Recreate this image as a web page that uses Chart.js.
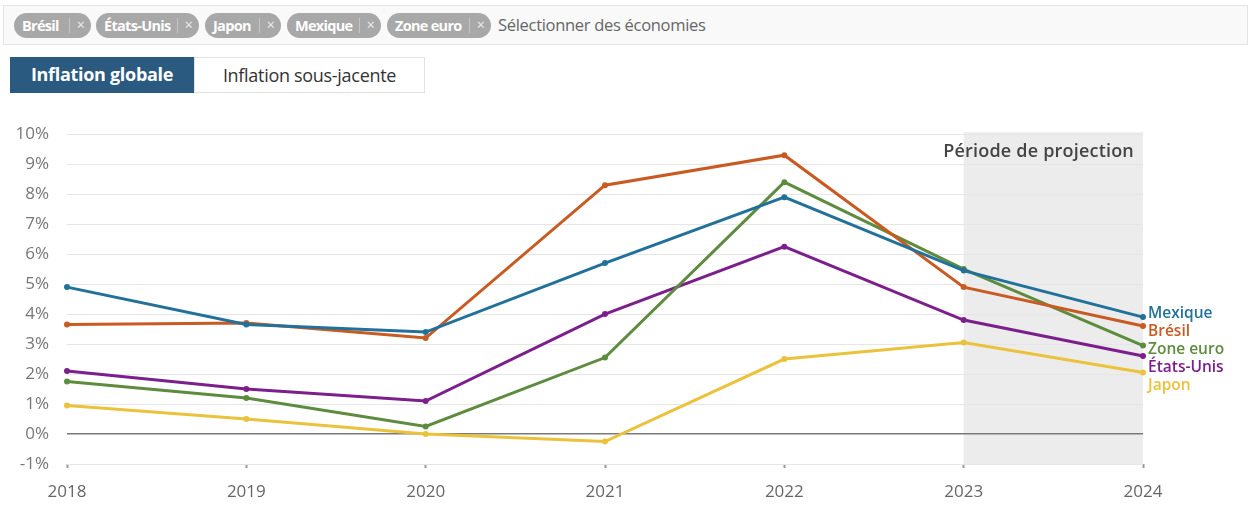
<!DOCTYPE html>
<html lang="fr">
<head>
<meta charset="utf-8">
<title>Inflation globale</title>
<script src="https://cdn.jsdelivr.net/npm/chart.js@4"></script>
<style>
  body { margin: 0; background: #fff; font-family: "Open Sans", sans-serif; width: 1253px; height: 505px; overflow: hidden; position: relative; }
  #filtre { position: absolute; left: 3px; top: 5px; width: 1243px; height: 38px; border: 1px solid #e4e4e4; background: #f9f9f9; }
  .tag { position: absolute; top: 7px; height: 25px; line-height: 25px; border-radius: 13px; background: #a8a8a8; color: #fff; font-weight: 700; font-size: 14.5px; letter-spacing: -0.7px; padding-left: 8px; box-sizing: border-box; }
  .tag span { position: absolute; right: 0; top: 0; width: 21px; text-align: center; font-weight: 400; border-left: 1px solid #c4c4c4; height: 15px; line-height: 14px; margin-top: 5px; font-size: 14px; color: #eee; }
  #placeholder { position: absolute; left: 494px; top: 7px; font-size: 16.5px; color: #666; letter-spacing: -0.3px; }
  .btn { position: absolute; top: 57px; height: 36px; line-height: 35px; font-size: 18px; box-sizing: border-box; text-align: center; letter-spacing: -0.3px; }
  #globale { left: 10px; width: 184px; background: #2a5a80; color: #fff; font-weight: 700; }
  #sousjacente { left: 194px; width: 231px; border: 1px solid #e2e2e2; color: #333; font-weight: 400; }
  #wrap { position: absolute; left: 0; top: 106px; width: 1253px; height: 399px; }
</style>
</head>
<body>

<div id="filtre">
  <div class="tag" style="left:10px;width:77px">Brésil<span>×</span></div>
  <div class="tag" style="left:92px;width:103px">États-Unis<span>×</span></div>
  <div class="tag" style="left:201px;width:76px">Japon<span>×</span></div>
  <div class="tag" style="left:283px;width:94px">Mexique<span>×</span></div>
  <div class="tag" style="left:383px;width:104px">Zone euro<span>×</span></div>
  <div id="placeholder">Sélectionner des économies</div>
</div>

<div class="btn" id="globale">Inflation globale</div>
<div class="btn" id="sousjacente">Inflation sous-jacente</div>

<div id="wrap"><canvas id="myChart"></canvas></div>

<script>
// annees et series (inflation, %)
let years = ['2018', '2019', '2020', '2021', '2022', '2023', '2024'];
let yTicks = [-1, 0, 1, 2, 3, 4, 5, 6, 7, 8, 9, 10];

let mexique    = [4.9, 3.65, 3.4, 5.7, 7.9, 5.45, 3.9];
let bresil     = [3.65, 3.7, 3.2, 8.3, 9.3, 4.9, 3.6];
let zoneEuro   = [1.75, 1.2, 0.25, 2.55, 8.4, 5.5, 2.95];
let etatsUnis  = [2.1, 1.5, 1.1, 4.0, 6.25, 3.8, 2.6];
let japon      = [0.95, 0.5, 0.0, -0.25, 2.5, 3.05, 2.05];

let seriesNames  = ['Mexique', 'Brésil', 'Zone euro', 'États-Unis', 'Japon'];
let seriesValues = [mexique, bresil, zoneEuro, etatsUnis, japon];
let seriesColors = ['#22719a', '#c95a22', '#5d8c3e', '#7c1f8c', '#ebc23c'];

let projectionStart = '2023';
let projectionLabel = 'Période de projection';

let datasets = [];
for (let i = 0; i < seriesNames.length; i++) {
  datasets.push({
    label: seriesNames[i],
    data: seriesValues[i],
    borderColor: seriesColors[i],
    backgroundColor: seriesColors[i],
    borderWidth: 3,
    pointRadius: 1.5,
    pointHoverRadius: 2,
    tension: 0
  });
}

// zone grise de la projection + son titre
const projectionPlugin = {
  id: 'projection',
  beforeDraw(chart) {
    let ctx = chart.ctx;
    let x = chart.scales.x;
    let area = chart.chartArea;
    let x0 = x.getPixelForValue(years.indexOf(projectionStart));
    let x1 = x.getPixelForValue(years.length - 1);
    ctx.save();
    ctx.fillStyle = '#ececec';
    ctx.fillRect(x0, area.top - 2, x1 - x0, area.bottom - area.top + 2);
    ctx.fillStyle = '#444';
    ctx.font = '600 18px "Open Sans"';
    ctx.letterSpacing = '0.2px';
    ctx.textAlign = 'right';
    ctx.textBaseline = 'middle';
    ctx.fillText(projectionLabel, x1 - 9, area.top + 18);
    ctx.restore();
  }
};

// noms des series au bout des lignes, sans chevauchement
const endLabels = {
  id: 'endLabels',
  afterDatasetsDraw(chart) {
    let ctx = chart.ctx;
    let last = years.length - 1;
    let items = [];
    chart.data.datasets.forEach(function (ds, i) {
      let pt = chart.getDatasetMeta(i).data[last];
      items.push({ text: ds.label, color: ds.borderColor, y: pt.y, x: pt.x });
    });
    items.sort(function (a, b) { return a.y - b.y; });
    let prev = -1000;
    for (let i = 0; i < items.length; i++) {
      let y = items[i].y - 4;
      if (y < prev + 18) y = prev + 18;
      items[i].ly = y;
      prev = y;
    }
    ctx.save();
    ctx.font = '600 15.5px "Open Sans"';
    ctx.textAlign = 'left';
    ctx.textBaseline = 'middle';
    items.forEach(function (it) {
      ctx.fillStyle = it.color;
      ctx.fillText(it.text, it.x + 5, it.ly);
    });
    ctx.restore();
  }
};

let config = {
  type: 'line',
  data: { labels: years, datasets: datasets },
  plugins: [projectionPlugin, endLabels],
  options: {
    responsive: true,
    maintainAspectRatio: false,
    animation: false,
    layout: { padding: { left: 0, right: 110, top: 10, bottom: 0 } },
    plugins: {
      legend: { display: false },
      tooltip: { enabled: false }
    },
    scales: {
      x: {
        offset: false,
        grid: { drawOnChartArea: false, drawTicks: true, tickLength: 4, tickColor: '#999', tickWidth: 2 },
        border: { display: false },
        ticks: { color: '#666', font: { family: 'Open Sans', size: 17 }, padding: 14, maxRotation: 0 },
        afterFit(scale) { scale.height = 41; }
      },
      y: {
        min: yTicks[0],
        max: yTicks[yTicks.length - 1],
        afterBuildTicks(scale) { scale.ticks = yTicks.map(function (v) { return { value: v }; }); },
        grid: {
          drawTicks: false,
          color: function (c) { return c.tick && c.tick.value === 0 ? '#7a7a7a' : '#e6e6e6'; },
          lineWidth: function (c) { return c.tick && c.tick.value === 0 ? 1.5 : 1; }
        },
        border: { display: false },
        ticks: {
          color: '#777',
          font: { family: 'Open Sans', size: 17 },
          padding: 18,
          callback: function (v) { return v + '%'; }
        },
        afterFit(scale) { scale.width = 67; }
      }
    }
  }
};

let canvasChart = document.getElementById('myChart');
const myChart = new Chart(canvasChart, config);
</script>
</body>
</html>
